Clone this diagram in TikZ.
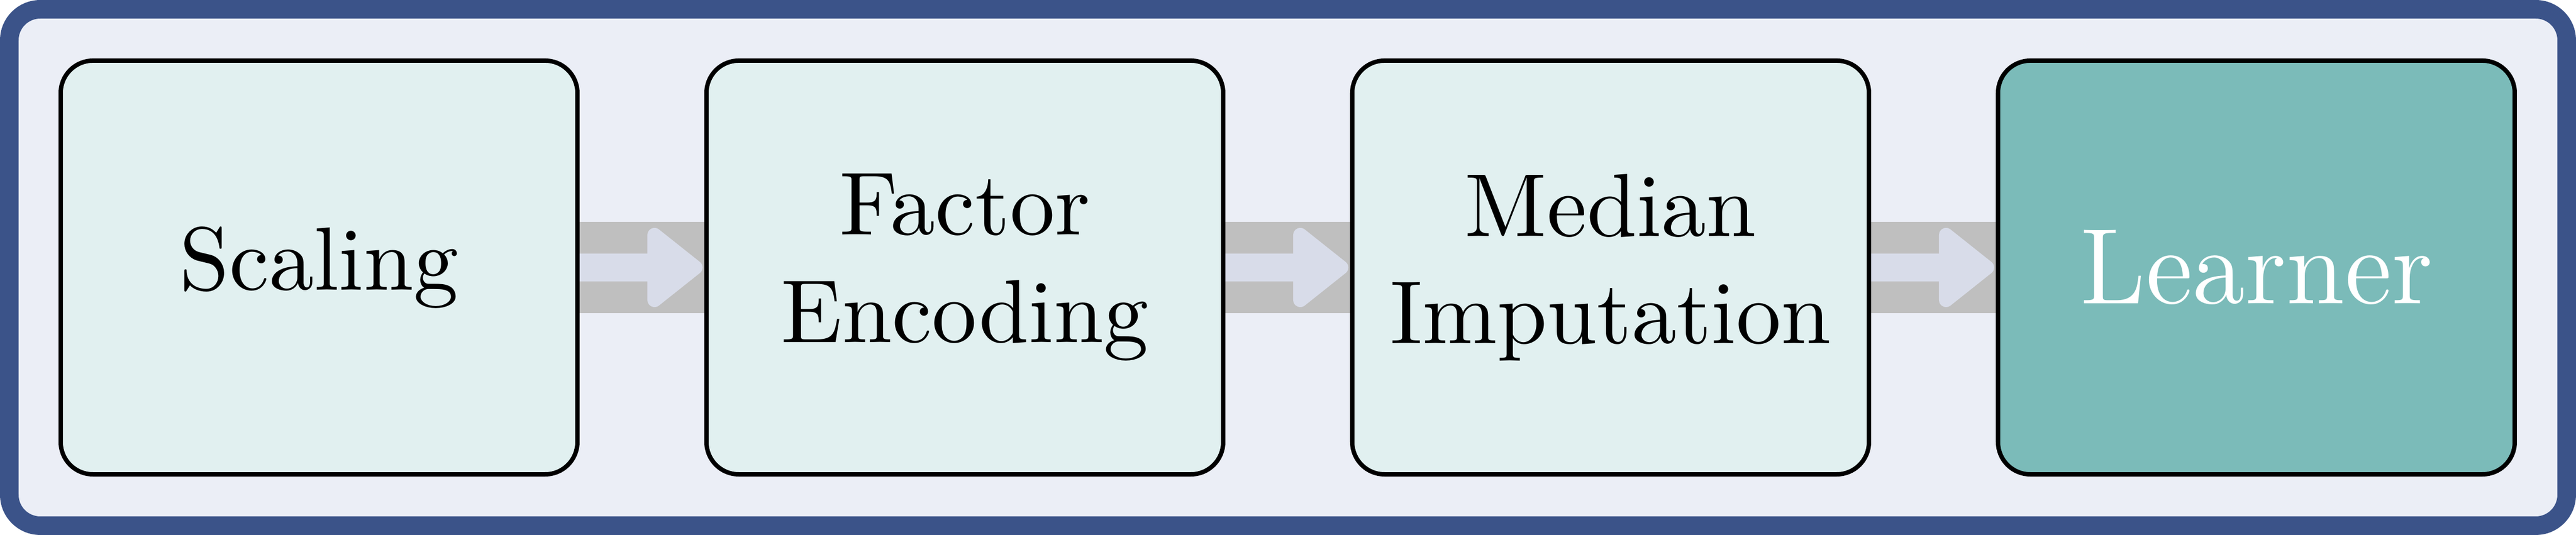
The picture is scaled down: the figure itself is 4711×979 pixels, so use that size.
\documentclass[tikz,border=0pt]{standalone}
\usetikzlibrary{calc,backgrounds}
\definecolor{framecol}{HTML}{3B5389}
\definecolor{framefill}{HTML}{EBEEF6}
\definecolor{boxfill}{HTML}{E1F0F0}
\definecolor{learnfill}{HTML}{7BBBB9}
\definecolor{bandcol}{HTML}{BFBFBF}
\definecolor{arrowcol}{HTML}{D8DCE9}
\tikzset{
  stagebox/.style={draw=black, fill=boxfill, line width=0.488pt, rounded corners=3.6pt,
    minimum width=57.62pt, minimum height=46.16pt, inner sep=0pt, outer sep=0pt,
    align=center, font=\normalsize},
  learnbox/.style={stagebox, fill=learnfill, text=white, font=\large},
  band/.style={fill=bandcol},
  shaft/.style={fill=arrowcol},
  head/.style={fill=arrowcol, draw=arrowcol, line width=1.585pt, line join=round}
}
\begin{document}
\begin{tikzpicture}[x=0.060976pt, y=-0.060976pt]
\useasboundingbox (0,0) rectangle (4711,979);
\node[stagebox] (s1) at (583.5,489.5) {Scaling};
\node[stagebox] (s2) at (1764.5,489.5) {Factor\\Encoding};
\node[stagebox] (s3) at (2945.5,489.5) {Median\\Imputation};
\node[learnbox] (s4) at (4126.5,489.5) {Learner};
\begin{scope}[on background layer]
  \draw[line width=2.073pt, draw=framecol, fill=framefill, rounded corners=3.45pt]
    (17,17) rectangle (4694,962);
  \foreach \a/\b in {s1/s2, s2/s3, s3/s4}{
    \fill[band] ($(\a.east)+(0,-83.5)$) rectangle ($(\b.west)+(0,83.5)$);
    \fill[shaft] ($(\a.east)+(0,-25.5)$) rectangle ($(\a.east)+(141,25.5)$);
    \filldraw[head] ($(\a.east)+(141,-59.5)$) -- ($(\a.east)+(215.8,0)$)
      -- ($(\a.east)+(141,59.5)$) -- cycle;
  }
\end{scope}
\end{tikzpicture}
\end{document}
